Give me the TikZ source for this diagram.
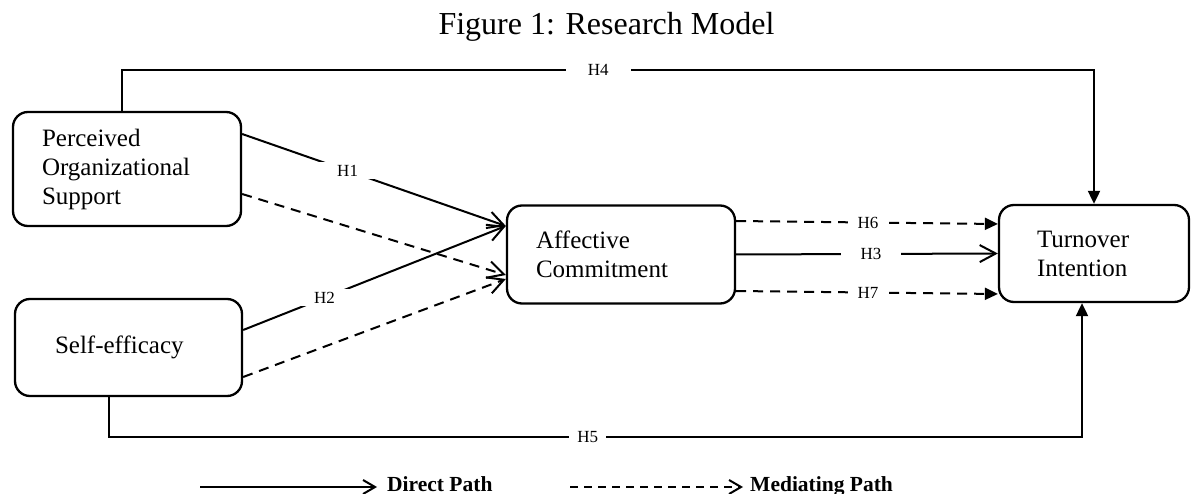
\documentclass[tikz,border=0pt]{standalone}
\usepackage{fontspec}
\setmainfont{Liberation Serif}
\usetikzlibrary{arrows.meta,calc}
\begin{document}
\begin{tikzpicture}[x=1pt,y=-1pt,
  box/.style={draw, line width=2.3pt, rounded corners=15pt, align=left, inner ysep=0pt, font=\fontsize{25}{29}\selectfont},
  conn/.style={line width=2pt},
  dsh/.style={conn, dash pattern=on 10pt off 7pt},
  barb/.style={-{Straight Barb[length=16pt,width=17pt]}},
  lbarb/.style={-{Straight Barb[length=12pt,width=14pt]}},
  tri/.style={-{Triangle[length=13pt,width=12pt]}},
  hlab/.style={fill=white, font=\fontsize{17}{20}\selectfont, inner ysep=3pt},
  legtext/.style={font=\bfseries\fontsize{21.5}{24}\selectfont, anchor=base west}]
\useasboundingbox (0,0) rectangle (1191,494);

% title
\node[font=\fontsize{32}{36}\selectfont, anchor=base] (title) at (606.5,35) {Figure 1: Research Model};

% boxes
\node[box, text width=170pt, inner xsep=29pt, minimum height=114pt] (pos) at (127,169) {Perceived\\Organizational\\Support};
\node[box, text width=147pt, inner xsep=40pt, minimum height=97pt] (se) at (128.5,347.5) {\raisebox{-4.5pt}{Self-efficacy}};
\node[box, text width=170pt, inner xsep=29pt, minimum height=98pt] (ac) at (621,254.5) {Affective\\Commitment};
\node[box, text width=114pt, inner xsep=38pt, minimum height=97pt] (ti) at (1094,253.5) {Turnover\\Intention};

% H4
\coordinate (h4l) at (122,70);
\coordinate (h4r) at (1094,70);
\draw[conn,tri] (pos.north -| h4l) -- (h4l) -- node[hlab, pos=0.49, inner xsep=22pt]{H4} (h4r) -- (ti.north);

% H5
\coordinate (h5l) at (109,437);
\coordinate (h5r) at (1082,437);
\draw[conn,tri] (se.south -| h5l) -- (h5l) -- node[hlab, pos=0.492, inner xsep=8pt]{H5} (h5r) -- (ti.south -| h5r);

% H1, H2 (direct)
\draw[conn,barb] ($(pos.east)+(0,-35)$) -- node[hlab, pos=0.4, inner xsep=18pt]{H1} ($(ac.west)+(0,-28.5)$);
\draw[conn,barb] ($(se.east)+(0,-17.5)$) -- node[hlab, pos=0.31, inner xsep=18pt]{H2} ($(ac.west)+(0,-28.5)$);

% mediating dashed
\draw[dsh,barb] ($(pos.east)+(0,25)$) -- ($(ac.west)+(0,20.5)$);
\draw[dsh,barb] ($(se.east)+(0,29.5)$) -- ($(ac.west)+(0,24.5)$);

% right side
\draw[dsh,tri] ($(ac.east)+(0,-33.5)$) -- node[hlab, pos=0.504, inner xsep=10pt]{H6} ($(ti.west)+(0,-29.5)$);
\draw[conn,barb] (ac.east) -- node[hlab, pos=0.515, inner xsep=20pt]{H3} (ti.west);
\draw[dsh,tri] ($(ac.east)+(0,36.5)$) -- node[hlab, pos=0.504, inner xsep=10pt]{H7} ($(ti.west)+(0,40.5)$);

% legend
\coordinate (ls) at (200,487);
\node[legtext, inner xsep=10pt] (dtext) at (377,491) {Direct Path};
\draw[conn,lbarb] (ls) -- (dtext.west |- ls);
\coordinate (lm) at (570,487);
\node[legtext, inner xsep=7pt] (mtext) at (743,491) {Mediating Path};
\draw[conn, dash pattern=on 8pt off 6pt, lbarb] (lm) -- (mtext.west |- lm);
\end{tikzpicture}
\end{document}
